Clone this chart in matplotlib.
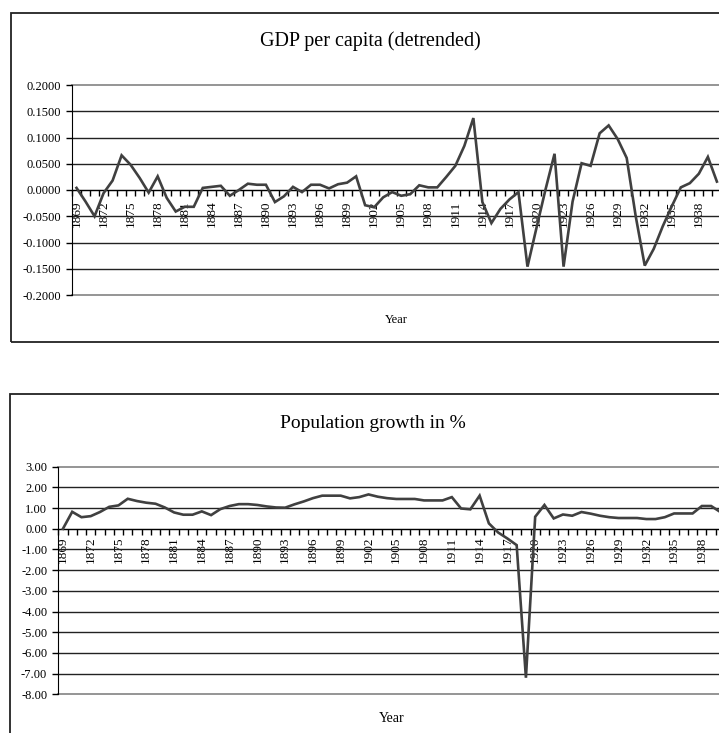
"""
GDP per capita (detrended) and population growth, 1869-1940.
Two stacked Excel-style line charts, each inside its own frame.
"""

import matplotlib
matplotlib.use("Agg")
import matplotlib.pyplot as plt
from matplotlib.patches import Rectangle

plt.rcParams['font.family'] = ['Liberation Serif', 'DejaVu Serif']

# Data
years = list(range(1869, 1941))

gdp_detrended = [
    0.004, -0.022, -0.050, -0.006, 0.018, 0.066, 0.048, 0.023, -0.005, 0.026,
    -0.015, -0.041, -0.032, -0.032, 0.004, 0.006, 0.008, -0.011, 0.000, 0.012,
    0.010, 0.010, -0.023, -0.012, 0.006, -0.004, 0.010, 0.010, 0.003, 0.011,
    0.014, 0.026, -0.029, -0.033, -0.014, -0.004, -0.011, -0.008, 0.009, 0.005,
    0.005, 0.025, 0.046, 0.084, 0.137, -0.023, -0.063, -0.036, -0.018, -0.004,
    -0.146, -0.072, 0.001, 0.069, -0.146, -0.022, 0.051, 0.046, 0.108, 0.123,
    0.097, 0.061, -0.050, -0.144, -0.112, -0.069, -0.031, 0.005, 0.013, 0.031,
    0.063, 0.016,
]

pop_growth = [
    0.00, 0.82, 0.56, 0.61, 0.81, 1.06, 1.13, 1.45, 1.34, 1.26,
    1.21, 1.03, 0.79, 0.68, 0.68, 0.84, 0.66, 0.95, 1.10, 1.19,
    1.19, 1.15, 1.08, 1.03, 1.02, 1.18, 1.32, 1.48, 1.60, 1.60,
    1.60, 1.47, 1.53, 1.66, 1.55, 1.48, 1.44, 1.44, 1.44, 1.37,
    1.37, 1.37, 1.53, 0.98, 0.94, 1.60, 0.26, -0.18, -0.47, -0.79,
    -7.20, 0.58, 1.15, 0.50, 0.69, 0.63, 0.81, 0.73, 0.63, 0.56,
    0.52, 0.52, 0.52, 0.47, 0.47, 0.56, 0.74, 0.74, 0.74, 1.10,
    1.10, 0.81,
]

gdp_ticks = [-0.2, -0.15, -0.1, -0.05, 0.0, 0.05, 0.1, 0.15, 0.2]
pop_ticks = [-8, -7, -6, -5, -4, -3, -2, -1, 0, 1, 2, 3]

W, H = 719, 733
fig = plt.figure(figsize=(W / 100, H / 100), dpi=100)

LINE_COLOR = '#404040'
GRID_COLOR = '#222222'
BORDER_GRAY = '#8c8c8c'


def px_rect(left, top, right, bottom):
    """Convert pixel box (from top-left) to figure fraction [l, b, w, h]."""
    return [left / W, 1 - bottom / H, (right - left) / W, (bottom - top) / H]


def excel_panel(ax, values, yticks, fmt, label_pad):
    n = len(years)
    x = list(range(n))
    ax.plot(x, values, color=LINE_COLOR, lw=1.9, solid_joinstyle='miter', zorder=3)
    ax.set_xlim(-0.5, n - 0.5)
    ax.set_ylim(yticks[0], yticks[-1])

    # horizontal grid
    ax.set_yticks(yticks)
    ax.set_yticklabels([fmt.format(v) for v in yticks], fontsize=9)
    ax.yaxis.grid(True, color=GRID_COLOR, lw=1.0)
    grid = ax.get_ygridlines()
    for g in (grid[0], grid[-1]):
        g.set_color(BORDER_GRAY)
        g.set_linewidth(1.3)
        g.set_clip_on(False)
    ax.tick_params(axis='y', direction='out', length=4, width=1, pad=4)

    # spines: y axis on the left, category axis at zero
    ax.spines['right'].set_visible(False)
    ax.spines['top'].set_visible(False)
    ax.spines['bottom'].set_position(('data', 0))
    ax.spines['bottom'].set_color('black')
    ax.spines['left'].set_color('black')

    # tick marks between categories, labels every 3 years
    ax.set_xticks([i - 0.5 for i in range(n + 1)])
    ax.set_xticklabels([])
    ax.tick_params(axis='x', which='major', direction='out', length=4, width=1)
    lab_pos = [i for i in range(n) if (years[i] - years[0]) % 3 == 0]
    ax.set_xticks(lab_pos, minor=True)
    ax.set_xticklabels([str(years[i]) for i in lab_pos], minor=True,
                       rotation=90, fontsize=9.5)
    ax.tick_params(axis='x', which='minor', length=0, pad=label_pad)

    ax.set_facecolor('none')


# top chart
ax1 = fig.add_axes(px_rect(72, 85, 721.4, 295))
excel_panel(ax1, gdp_detrended, gdp_ticks, '{:.4f}', 7.5)
ax1.text(0.5, -0.12, 'Year', transform=ax1.transAxes, ha='center', va='center',
         fontsize=9)
fig.text(370 / W, 1 - 41 / H, 'GDP per capita (detrended)', ha='center',
         va='center', fontsize=14.5)
fig.add_artist(Rectangle((11 / W, 1 - 341.7 / H), 1.1, (341.7 - 12.7) / H,
                         transform=fig.transFigure, fill=False,
                         edgecolor='#222222', lw=1.3))

# bottom chart
ax2 = fig.add_axes(px_rect(58.3, 466.7, 725, 694.3))
excel_panel(ax2, pop_growth, pop_ticks, '{:.2f}', 5.5)
ax2.text(0.5, -0.105, 'Year', transform=ax2.transAxes, ha='center', va='center',
         fontsize=10)
fig.text(373 / W, 1 - 423 / H, 'Population growth in %', ha='center',
         va='center', fontsize=14)
fig.add_artist(Rectangle((10 / W, -0.1), 1.1, 0.1 + 1 - 394.3 / H,
                         transform=fig.transFigure, fill=False,
                         edgecolor='#222222', lw=1.3))

fig.savefig('out.png', dpi=100)
